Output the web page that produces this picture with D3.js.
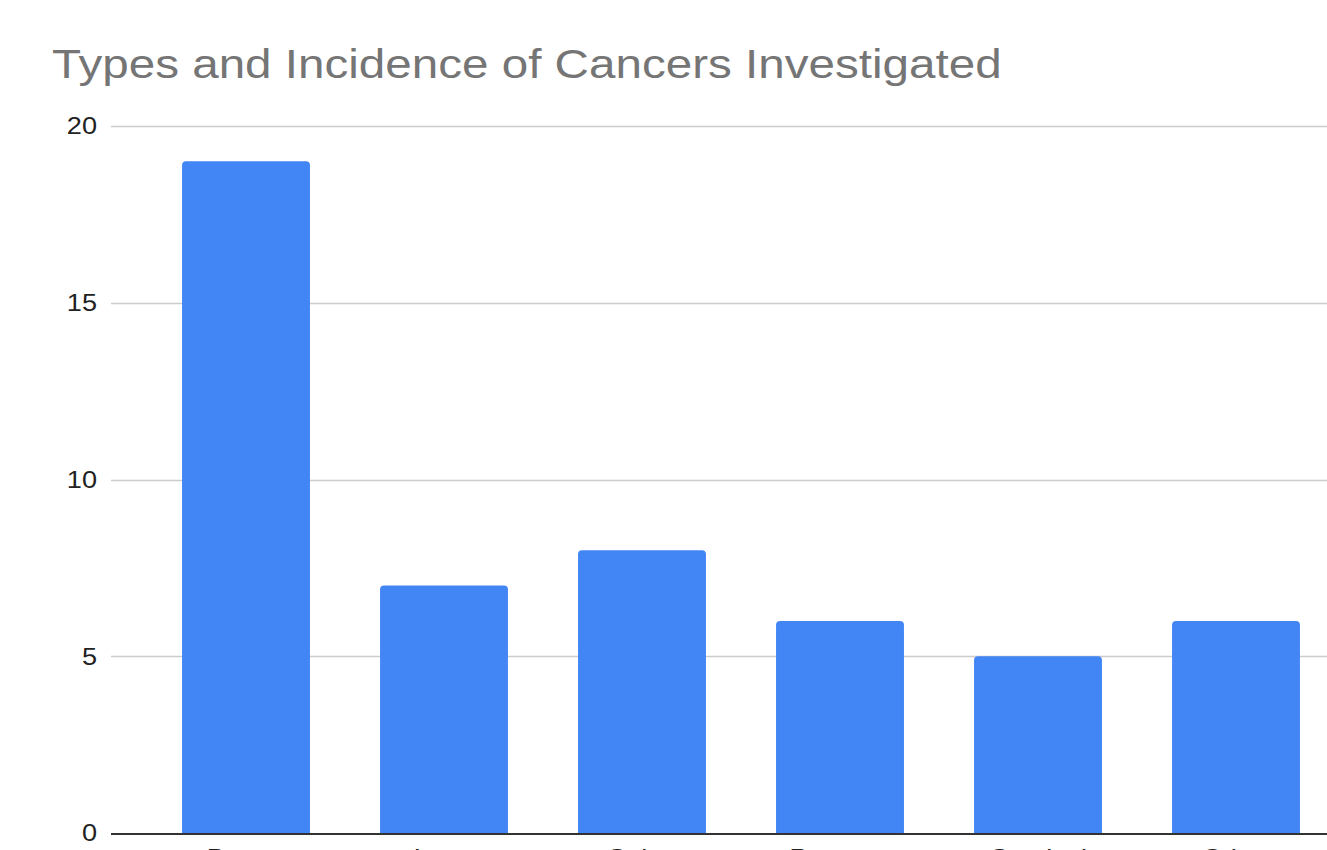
<!DOCTYPE html>
<html>
<head>
<meta charset="utf-8">
<script src="https://cdn.jsdelivr.net/npm/d3@7"></script>
<style>
  html, body { margin: 0; padding: 0; background: #fff; overflow: hidden; }
  svg { display: block; }
</style>
</head>
<body>
<svg id="chart" width="1327" height="850"></svg>
<script>
// Chart data
const categories = ["Breast", "Lung", "Colon", "Prostate", "Cervical", "Other"];
const counts = [19, 7, 8, 6, 5, 6];
const yTicks = [0, 5, 10, 15, 20];
const chartTitle = "Types and Incidence of Cancers Investigated";

const W = 1327, H = 850;
const svg = d3.select("#chart");
const font = "Arial, 'Liberation Sans', sans-serif";
const labelStretch = 1.18;

const plot = { left: 111, top: 126, bottom: 833 };

const y = d3.scaleLinear().domain([0, 20]).range([plot.bottom, plot.top]);
const x = d3.scaleBand()
  .domain(categories)
  .range([147, 1335])
  .paddingInner(0.354)
  .paddingOuter(0.177);

// Title, widened to span its full line
const title = svg.append("text")
  .attr("font-family", font)
  .attr("font-size", 41)
  .attr("fill", "#757575")
  .text(chartTitle);
const tw = title.node().getComputedTextLength();
title.attr("transform", `translate(52,78) scale(${950 / tw},1)`);

// Gridlines
svg.append("g")
  .selectAll("line")
  .data(yTicks.filter(d => d > 0))
  .join("line")
  .attr("x1", plot.left).attr("x2", W)
  .attr("y1", d => Math.round(y(d)) + 0.5)
  .attr("y2", d => Math.round(y(d)) + 0.5)
  .attr("stroke", "#cccccc")
  .attr("stroke-width", 1.5);

// Y axis labels
const yAxis = d3.axisLeft(y).tickValues(yTicks).tickSize(0).tickPadding(0);
const gy = svg.append("g").attr("transform", `translate(97,0)`).call(yAxis);
gy.select(".domain").remove();
gy.selectAll("text")
  .attr("font-family", font)
  .attr("font-size", 23)
  .attr("fill", "#222")
  .attr("dy", "0.34em")
  .attr("transform", `scale(${labelStretch},1)`);

// Bars with rounded top corners
const r = 4;
function barPath(d, i) {
  const x0 = x(categories[i]), w = x.bandwidth();
  const yt = y(d), yb = plot.bottom;
  return `M${x0},${yb}V${yt + r}Q${x0},${yt} ${x0 + r},${yt}H${x0 + w - r}Q${x0 + w},${yt} ${x0 + w},${yt + r}V${yb}Z`;
}
svg.append("g")
  .selectAll("path")
  .data(counts)
  .join("path")
  .attr("d", barPath)
  .attr("fill", "#4285F4");

// Baseline
svg.append("line")
  .attr("x1", plot.left).attr("x2", W)
  .attr("y1", plot.bottom + 1).attr("y2", plot.bottom + 1)
  .attr("stroke", "#333")
  .attr("stroke-width", 2);

// X axis labels
const xAxis = d3.axisBottom(x).tickSize(0).tickPadding(0);
const gx = svg.append("g").attr("transform", `translate(0,${plot.bottom})`).call(xAxis);
gx.select(".domain").remove();
gx.selectAll("text")
  .attr("font-family", font)
  .attr("font-size", 23)
  .attr("fill", "#222")
  .attr("dy", 0)
  .attr("y", 33)
  .attr("transform", `scale(${labelStretch},1)`);
</script>
</body>
</html>
